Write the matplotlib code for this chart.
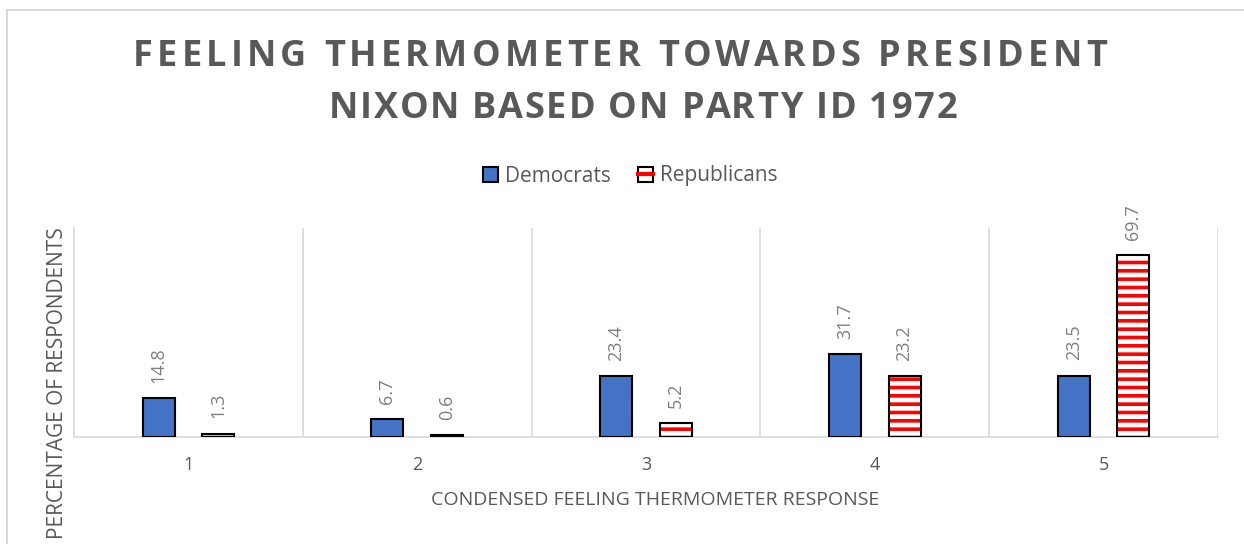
import matplotlib
matplotlib.use("Agg")
import matplotlib.pyplot as plt
from matplotlib.patches import Patch, Rectangle
from matplotlib.lines import Line2D
from matplotlib.font_manager import FontProperties
import numpy as np

# data
categories = ["1", "2", "3", "4", "5"]
democrats = [14.8, 6.7, 23.4, 31.7, 23.5]
republicans = [1.3, 0.6, 5.2, 23.2, 69.7]
title_lines = ["FEELING THERMOMETER TOWARDS PRESIDENT", "NIXON BASED ON PARTY ID 1972"]

TXT = "#595959"
GRID = "#d9d9d9"
BLUE = "#4472c4"
RED = "#ff0000"

plt.rcParams["font.family"] = ["Open Sans", "DejaVu Sans"]
plt.rcParams["hatch.linewidth"] = 2.6

W, H = 1244, 544
fig = plt.figure(figsize=(W / 100, H / 100), dpi=100)
renderer = fig.canvas.get_renderer()


def text_w(s, prop):
    return renderer.get_text_width_height_descent(s, prop, ismath=False)[0]


def tracked_text(s, xc, yc, total, prop, color):
    """draw s centred at pixel (xc, yc), letter-spaced to span total px"""
    widths = [text_w(s[:i], prop) if i else 0.0 for i in range(len(s) + 1)]
    track = (total - widths[-1]) / (len(s) - 1)
    x0 = xc - total / 2
    for i, c in enumerate(s):
        if c == " ":
            continue
        fig.text((x0 + widths[i] + i * track) / W, 1 - yc / H, c, fontproperties=prop,
                 color=color, ha="left", va="center")


# outer chart frame (cut off at right and bottom)
fig.patches.append(Rectangle((7 / W, -0.1), 1.2, 1.1 - 10 / H, transform=fig.transFigure,
                             fill=False, edgecolor=GRID, lw=1.5))
# descender of a cut-off caption above the frame
fig.text(37 / W, 1 + 8 / H, "g", fontsize=14, color="black", va="baseline",
         family=["Liberation Serif"])

ax = fig.add_axes([74 / W, 1 - 437 / H, (1218 - 74) / W, (437 - 228) / H])
x = np.arange(1, len(categories) + 1)
off, bw = 0.13, 0.14

ax.bar(x - off, democrats, bw, color=BLUE, edgecolor="black", lw=1.5, zorder=3)
ax.bar(x + off, republicans, bw, color="white", edgecolor=RED, lw=0, hatch="--", zorder=3)
ax.bar(x + off, republicans, bw, fill=False, edgecolor="black", lw=1.5, zorder=4)

for xi, v in zip(x - off, democrats):
    ax.annotate(f"{v}", (xi, v), xytext=(0, 11), textcoords="offset points",
                rotation=90, ha="center", va="bottom", fontsize=13, color="#7f7f7f")
for xi, v in zip(x + off, republicans):
    ax.annotate(f"{v}", (xi, v), xytext=(0, 11), textcoords="offset points",
                rotation=90, ha="center", va="bottom", fontsize=13, color="#7f7f7f")

ax.set_xlim(0.5, len(categories) + 0.5)
ax.set_ylim(0, 80)
ax.set_yticks([])
ax.set_xticks(x)
ax.set_xticklabels(categories, fontsize=13, color=TXT)
ax.tick_params(axis="x", length=0, pad=14)
for b in np.arange(1.5, len(categories) + 0.6, 1):
    ax.axvline(b, color=GRID, lw=1.2, zorder=1)
for s in ["top", "right"]:
    ax.spines[s].set_visible(False)
ax.spines["left"].set_color(GRID)
ax.spines["bottom"].set_color(GRID)
ax.spines["left"].set_linewidth(1.2)
ax.spines["bottom"].set_linewidth(1.2)

fig.text(655 / W, 1 - 500 / H, "CONDENSED FEELING THERMOMETER RESPONSE", fontsize=14,
         color=TXT, ha="center", va="center")
fig.text(58 / W, 1 - 383 / H, "PERCENTAGE OF RESPONDENTS", rotation=90, fontsize=15,
         color=TXT, ha="center", va="center")

tprop = FontProperties(family=["Open Sans"], weight="bold", size=26)
tracked_text(title_lines[0], 620, 57, 974, tprop, TXT)
tracked_text(title_lines[1], 643, 109, 629, tprop, TXT)

h_dem = Patch(facecolor=BLUE, edgecolor="black", lw=1.5)
h_rep = (Patch(facecolor="white", edgecolor="black", lw=1.5),
         Line2D([], [], color=RED, lw=3))
leg = fig.legend([h_dem, h_rep], ["Democrats", "Republicans"], loc="center",
                 bbox_to_anchor=(630 / W, 1 - 176 / H), ncol=2, frameon=False,
                 fontsize=15, handlelength=0.75, handleheight=0.75, handletextpad=0.3,
                 columnspacing=1.3)
for t in leg.get_texts():
    t.set_color(TXT)

fig.savefig("out.png", dpi=100)
